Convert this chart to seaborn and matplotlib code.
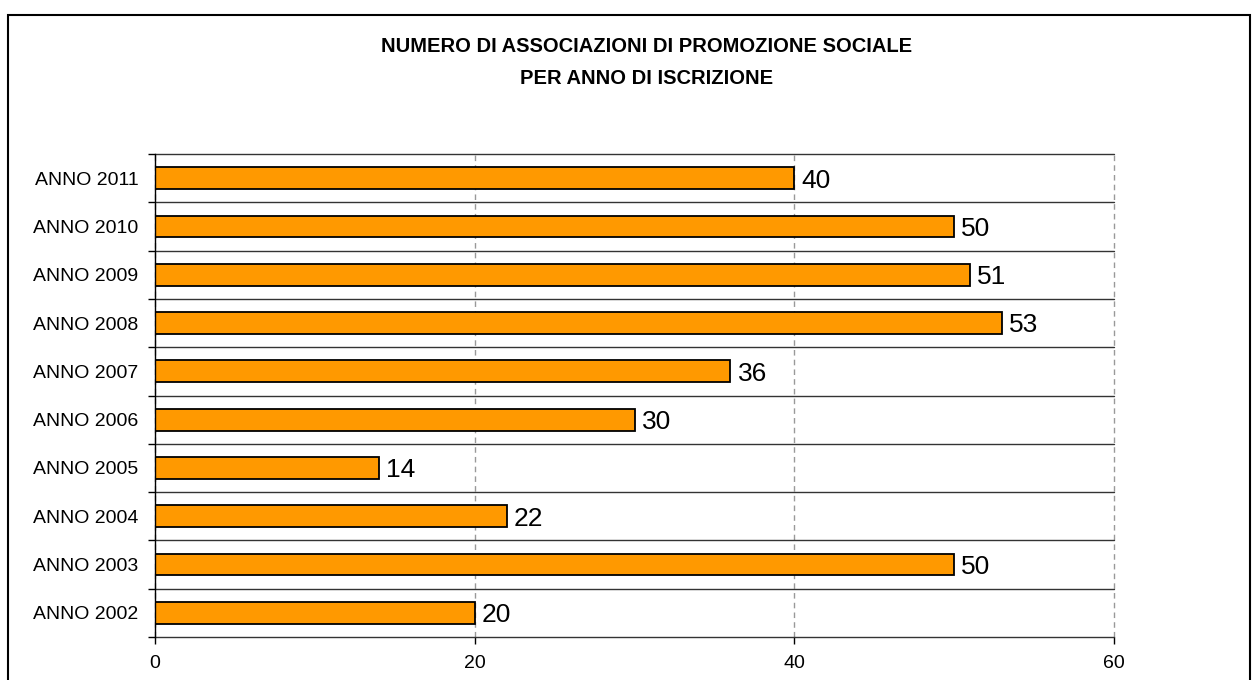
import numpy as np
import matplotlib
matplotlib.use("Agg")
import matplotlib.pyplot as plt
import matplotlib.patches as patches
import seaborn as sns

# data (top to bottom)
anni = ['ANNO 2011', 'ANNO 2010', 'ANNO 2009', 'ANNO 2008', 'ANNO 2007',
        'ANNO 2006', 'ANNO 2005', 'ANNO 2004', 'ANNO 2003', 'ANNO 2002']
numero = [40, 50, 51, 53, 36, 30, 14, 22, 50, 20]
x_ticks = [0, 20, 40, 60]
titolo = ['NUMERO DI ASSOCIAZIONI DI PROMOZIONE SOCIALE', 'PER ANNO DI ISCRIZIONE']

sns.set_style('white')
plt.rcParams['font.family'] = ['Liberation Sans', 'DejaVu Sans']
plt.rcParams['text.color'] = 'black'
plt.rcParams['xtick.color'] = 'black'
plt.rcParams['ytick.color'] = 'black'
plt.rcParams['axes.labelcolor'] = 'black'

fig = plt.figure(figsize=(12.6, 6.8), dpi=100)
ax = fig.add_axes([155 / 1260, 1 - 637 / 680, (1114 - 155) / 1260, (637 - 154) / 680])

sns.barplot(x=numero, y=anni, orient='h', color='#FF9900', saturation=1,
            edgecolor='black', linewidth=1.3, width=0.45, ax=ax)

# value labels
for i, v in enumerate(numero):
    ax.text(v + 0.45, i + 0.05, str(v), va='center', ha='left', fontsize=19, color='black')

ax.set_xlim(0, 60)
ax.set_ylim(9.5, -0.5)
ax.set_xticks(x_ticks)
ax.set_yticks(np.arange(-0.5, 10, 1), minor=True)

# gridlines
ax.grid(False)
ax.yaxis.grid(True, which='minor', color='#333333', linewidth=1.0, linestyle='-')
ax.xaxis.grid(True, which='major', color='#999999', linewidth=1.0, linestyle=(0, (4, 3)))
ax.set_axisbelow(True)
for t in ax.yaxis.get_minor_ticks() + ax.xaxis.get_major_ticks():
    t.gridline.set_clip_on(False)

for s in ['top', 'right', 'bottom']:
    ax.spines[s].set_visible(False)
ax.spines['left'].set_color('black')
ax.spines['left'].set_linewidth(1.0)

ax.tick_params(axis='y', which='major', length=0, pad=12, labelsize=14)
ax.tick_params(axis='y', which='minor', length=5, width=1, color='black', left=True, direction='out')
ax.tick_params(axis='x', which='major', length=5, width=1, color='black', bottom=True,
               direction='out', pad=8, labelsize=14)
ax.set_xlabel('')
ax.set_ylabel('')

# title
fig.text(647 / 1260, 1 - 47 / 680, titolo[0], ha='center', va='center',
         fontsize=14.5, fontweight='bold', color='black')
fig.text(647 / 1260, 1 - 78 / 680, titolo[1], ha='center', va='center',
         fontsize=14.5, fontweight='bold', color='black')

# outer frame
frame = patches.Rectangle((8 / 1260, -0.05), (1250 - 8) / 1260, 1.05 - 15 / 680,
                          transform=fig.transFigure, fill=False, edgecolor='black',
                          linewidth=1.5, clip_on=False)
fig.patches.append(frame)

fig.savefig('out.png', dpi=100)
